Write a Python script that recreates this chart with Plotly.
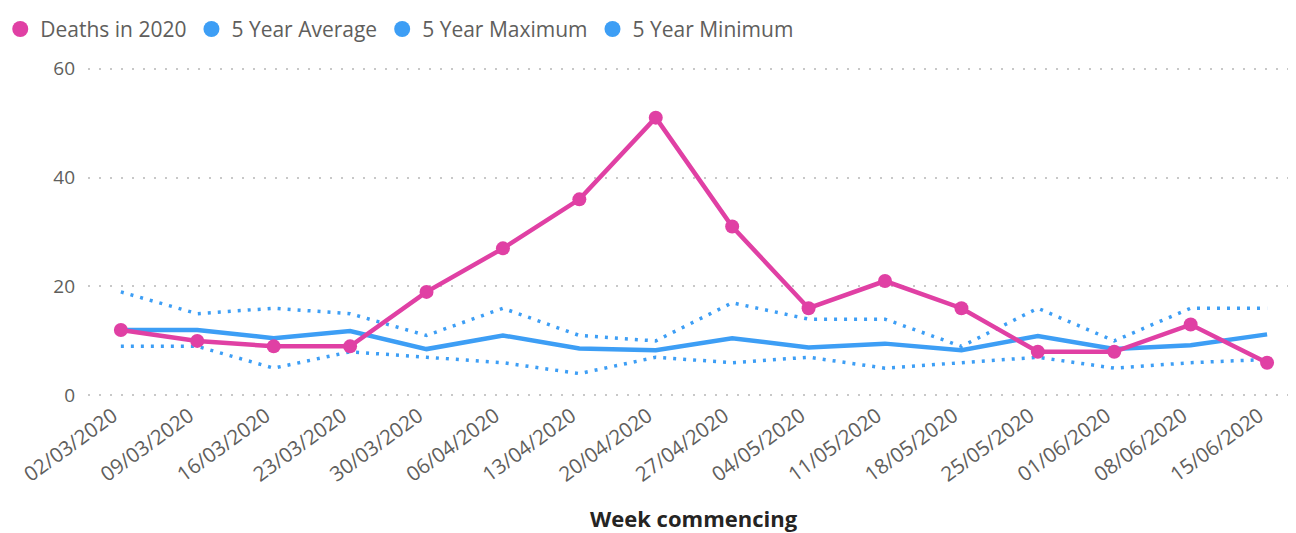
import plotly.graph_objects as go

weeks = ["02/03/2020", "09/03/2020", "16/03/2020", "23/03/2020", "30/03/2020", "06/04/2020",
         "13/04/2020", "20/04/2020", "27/04/2020", "04/05/2020", "11/05/2020", "18/05/2020",
         "25/05/2020", "01/06/2020", "08/06/2020", "15/06/2020"]
deaths_2020 = [12, 10, 9, 9, 19, 27, 36, 51, 31, 16, 21, 16, 8, 8, 13, 6]
avg_5yr = [12, 12, 10.5, 11.8, 8.5, 11, 8.6, 8.3, 10.5, 8.8, 9.5, 8.3, 10.9, 8.5, 9.2, 11.2]
max_5yr = [19, 15, 16, 15, 11, 16, 11, 10, 17, 14, 14, 9, 16, 10, 16, 16]
min_5yr = [9, 9, 5, 8, 7, 6, 4, 7, 6, 7, 5, 6, 7, 5, 6, 6.6]
y_ticks = [0, 20, 40, 60]

PINK = "#E040A4"
BLUE = "#3D9EF5"
GREY = "#605E5C"
FONT = "Open Sans"

fig = go.Figure()
fig.add_trace(go.Scatter(x=weeks, y=max_5yr, mode="lines", name="5 Year Maximum",
                         line=dict(color=BLUE, width=3.5, dash="3px,7px"), showlegend=False))
fig.add_trace(go.Scatter(x=weeks, y=min_5yr, mode="lines", name="5 Year Minimum",
                         line=dict(color=BLUE, width=3.5, dash="3px,7px"), showlegend=False))
fig.add_trace(go.Scatter(x=weeks, y=avg_5yr, mode="lines", name="5 Year Average",
                         line=dict(color=BLUE, width=4.5), showlegend=False))
fig.add_trace(go.Scatter(x=weeks, y=deaths_2020, mode="lines+markers", name="Deaths in 2020",
                         line=dict(color=PINK, width=4.5),
                         marker=dict(color=PINK, size=14), showlegend=False))

# legend entries (circle markers only, as in the reference)
for name, col in [("Deaths in 2020", PINK), ("5 Year Average", BLUE),
                  ("5 Year Maximum", BLUE), ("5 Year Minimum", BLUE)]:
    fig.add_trace(go.Scatter(x=[None], y=[None], mode="markers", name=name,
                             marker=dict(color=col, size=16)))

# the page body adds an 8px margin, so the figure is drawn 8px smaller and shifted
fig.update_layout(
    width=1288, height=525,
    margin=dict(l=80, r=6, t=59, b=136, autoexpand=False),
    paper_bgcolor="white", plot_bgcolor="white",
    font=dict(family=FONT, color=GREY),
    legend=dict(orientation="h", x=-0.073, xanchor="left", y=1.114, yanchor="middle",
                font=dict(size=21, color=GREY, family=FONT),
                itemwidth=30, tracegroupgap=0, traceorder="normal",
                itemclick=False),
    annotations=[dict(text="<b>Week commencing</b>", xref="paper", yref="paper",
                      x=0.504, y=-0.366, xanchor="center", yanchor="middle",
                      showarrow=False, font=dict(size=22, color="#252423", family=FONT))],
)
fig.update_xaxes(type="category", range=[-0.43, 15.3], showgrid=False, showline=False,
                 zeroline=False, ticks="", tickangle=-36, automargin=False,
                 ticklabelshift=-8, ticklabelstandoff=2,
                 tickfont=dict(size=20.5, color=GREY, family=FONT))
fig.update_yaxes(range=[-0.3, 60.3], tickvals=y_ticks, showgrid=True, gridcolor="#C8C8C8",
                 griddash="2px,9px", gridwidth=2, zeroline=False, showline=False,
                 automargin=False,
                 tickfont=dict(size=19, color=GREY, family=FONT), ticklabelstandoff=12)

fig.write_html("out.html")
